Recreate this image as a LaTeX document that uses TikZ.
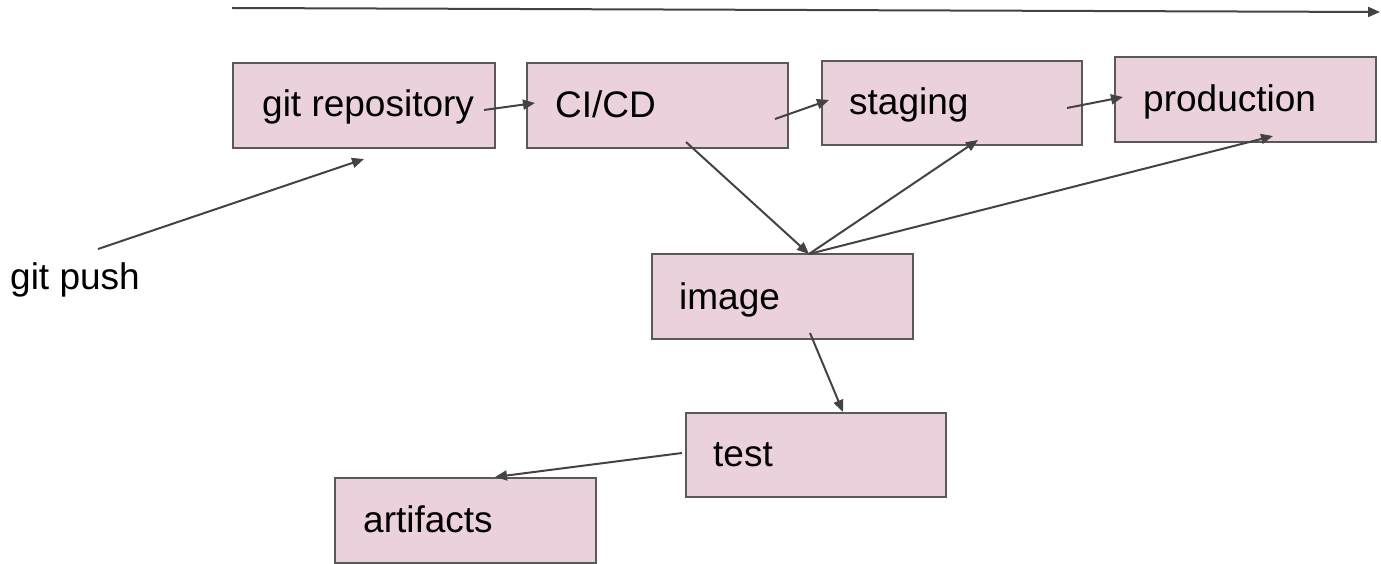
\documentclass[tikz,border=0pt]{standalone}
\usepackage{fontspec}
\setmainfont{Liberation Sans}
\usetikzlibrary{arrows.meta}
\definecolor{boxfill}{HTML}{EAD1DC}
\definecolor{boxline}{HTML}{595959}
\definecolor{arrowline}{HTML}{434343}
\begin{document}
\begin{tikzpicture}[x=1pt,y=-1pt,
  box/.style={draw=boxline,fill=boxfill,line width=2pt,inner sep=0pt,minimum width=#1,minimum height=85pt},
  box/.default=261pt,
  lbl/.style={anchor=base west,inner sep=0pt,font=\fontsize{37}{44}\selectfont,text=black},
  conn/.style={draw=arrowline,line width=2pt,-{Triangle[length=12pt,width=10pt]}}]
\useasboundingbox (0,0) rectangle (1381,564);
% boxes
\node[box=262pt] (repo) at (364,105.5) {};
\node[box] (cicd) at (657.5,105.5) {};
\node[box=260pt,minimum height=84pt] (staging) at (952,103) {};
\node[box] (prod) at (1245.5,99.5) {};
\node[box] (image) at (782.5,296.5) {};
\node[box=260pt,minimum height=84pt] (test) at (816,455) {};
\node[box] (artifacts) at (465.5,520.5) {};
% texts
\node[lbl] (repoT) at (262,117) {git repository};
\node[lbl] (cicdT) at (555,118) {CI/CD};
\node[lbl] (stagingT) at (849,115) {staging};
\node[lbl] (prodT) at (1143,112) {production};
\node[lbl] (imageT) at (679,309) {image};
\node[lbl] (testT) at (713,466) {test};
\node[lbl] (artifactsT) at (363,532) {artifacts};
\node[lbl] (push) at (10,289) {git push};
% free ends
\coordinate (tStart) at (232,8);
\coordinate (tEnd) at (1380,12);
\coordinate (pushOut) at (98,249);
\coordinate (imgTop) at ([xshift=26.5pt,yshift=-1pt]image.north);
% connectors
\draw[conn] (tStart) -- (tEnd);
\draw[conn] (pushOut) -- ([yshift=-10pt]repo.south);
\draw[conn] ([xshift=-12pt,yshift=-4.5pt]repo.east) -- ([xshift=9pt,yshift=2.5pt]cicd.west);
\draw[conn] ([xshift=-14pt,yshift=-13.5pt]cicd.east) -- ([xshift=8pt,yshift=3pt]staging.west);
\draw[conn] ([xshift=-16pt,yshift=-5pt]staging.east) -- ([xshift=9pt,yshift=2.5pt]prod.west);
\draw[conn] ([xshift=28.5pt,yshift=7pt]cicd.south) -- (imgTop);
\draw[conn] (imgTop) -- ([xshift=26pt,yshift=6pt]staging.south);
\draw[conn] (imgTop) -- ([xshift=27.5pt,yshift=7pt]prod.south);
\draw[conn] ([xshift=27.5pt,yshift=7pt]image.south) -- ([xshift=27pt]test.north);
\draw[conn] ([xshift=-3pt,yshift=2pt]test.west) -- ([xshift=29.5pt]artifacts.north);
\end{tikzpicture}
\end{document}
